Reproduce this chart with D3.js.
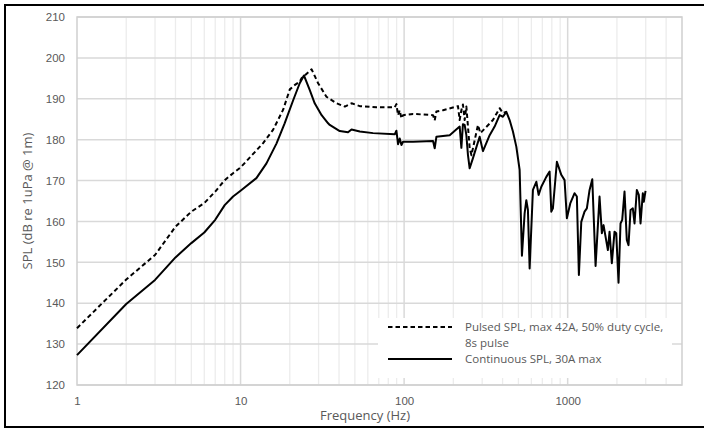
<!DOCTYPE html>
<html>
<head>
<meta charset="utf-8">
<script src="https://cdn.jsdelivr.net/npm/d3@7"></script>
<style>
  body { margin: 0; background: #fff; }
  svg { display: block; font-family: "Open Sans", "Liberation Sans", sans-serif; }
</style>
</head>
<body>
<svg id="chart" width="704" height="428"></svg>
<script>
// data
const contFreq = [1, 2, 3, 4, 5, 6, 7, 8, 9, 10, 12.5, 14.4, 16.6, 18.6, 21, 23, 24.4, 26.5, 28.4, 31.3, 34.3, 35.1,
  40.4, 45.4, 47.7, 53.6, 64.6, 87.6, 89.7, 91.8, 94, 96.3, 98.5, 113.4, 150.2, 153.8, 157.5, 189.9, 218.6, 223.9,
  228.9, 234.5, 240.2, 245.6, 251.6, 263.6, 289.6, 303.4, 333.4, 357.6, 383.7, 401.9, 421.6, 441.6, 462.7, 485.3,
  508.5, 525.2, 545.5, 558.7, 571.4, 585.3, 613.1, 643.2, 664.3, 690, 740.2, 775.3, 794.1, 812.2, 859.1, 913.9,
  957.2, 988.8, 1037, 1102, 1138, 1171, 1211, 1268, 1310, 1361, 1414, 1481, 1566, 1618, 1657, 1697, 1761, 1803,
  1862, 1934, 1981, 2046, 2104, 2155, 2226, 2299, 2355, 2423, 2502, 2563, 2647, 2723, 2789, 2880, 2921, 2992];
const contSpl = [127.3, 139.8, 145.7, 151.2, 154.7, 157.3, 160.4, 164.0, 166.1, 167.5, 170.6, 174.2, 179.1, 184.0,
  189.7, 193.8, 195.7, 192.1, 188.9, 186.0, 184.0, 183.6, 182.1, 181.8, 182.5, 182.0, 181.6, 181.3, 182.2, 178.9,
  180.3, 178.7, 179.5, 179.5, 179.7, 177.9, 180.7, 181.1, 183.2, 178.0, 183.8, 183.6, 181.1, 176.3, 173.0, 175.5,
  180.7, 177.2, 181.1, 183.2, 186.0, 185.6, 186.8, 184.8, 182.0, 178.3, 172.6, 151.6, 162.0, 165.2, 162.8, 148.5,
  167.7, 169.7, 166.5, 168.5, 170.9, 172.2, 162.4, 163.2, 174.6, 171.4, 170.1, 160.8, 164.4, 166.9, 166.1, 146.9,
  159.9, 162.4, 163.2, 167.7, 170.3, 149.1, 166.1, 157.1, 159.1, 156.7, 153.0, 157.5, 149.8, 157.5, 157.1, 145.0,
  159.5, 160.4, 167.3, 155.5, 154.2, 162.8, 163.2, 159.5, 167.7, 166.5, 159.5, 166.9, 164.8, 167.5];

const pulsedFreq = [1, 2, 3, 4, 5, 6, 7, 8, 9, 10, 13.7, 15.8, 18.2, 20, 21.5, 23, 23.6, 27.2, 29.8, 33.5, 38.6,
  43.4, 47.7, 53.6, 67.7, 87.6, 89.7, 91.8, 94, 96.3, 98.5, 113.4, 150.2, 153.8, 157.5, 172.8, 213.5, 218.6, 223.9,
  228.9, 234.5, 240.2, 251.6, 258, 282.8, 292.5, 349.2, 383.7, 401.9, 421.6];
const pulsedSpl = [133.9, 145.8, 151.8, 158.7, 162.4, 164.5, 167.3, 170.1, 171.8, 173.2, 179.1, 182.4, 187.3, 192.3,
  193.4, 194.2, 195.0, 197.2, 193.8, 190.5, 188.9, 188.1, 188.9, 188.2, 187.9, 187.9, 188.7, 186.0, 187.2, 185.2,
  186.0, 186.3, 186.0, 184.7, 186.9, 187.2, 188.2, 184.8, 187.2, 188.6, 184.8, 188.1, 178.0, 176.2, 183.6, 181.6,
  184.8, 187.7, 186.5, 186.8];

const xTicks = [1, 10, 100, 1000];
const yTicks = [120, 130, 140, 150, 160, 170, 180, 190, 200, 210];
const legendLabels = [["Pulsed SPL, max 42A, 50% duty cycle,", "8s pulse"], ["Continuous SPL, 30A max"]];

const svg = d3.select("#chart");
const pLeft = 77, pRight = 682, pTop = 17, pBottom = 385;

const x = d3.scaleLog().domain([1, 5000]).range([pLeft, pRight]);
const y = d3.scaleLinear().domain([120, 210]).range([pBottom, pTop]);

// outer frame
svg.append("rect")
  .attr("x", 5).attr("y", 5).attr("width", 702).attr("height", 422)
  .attr("fill", "none").attr("stroke", "#000").attr("stroke-width", 2);

// minor vertical grid
let minor = [];
for (let d = 1; d < 5000; d *= 10) {
  for (let k = 2; k <= 9; k++) if (d * k < 5000) minor.push(d * k);
}
svg.append("g").selectAll("line").data(minor).join("line")
  .attr("x1", d => x(d)).attr("x2", d => x(d))
  .attr("y1", pTop).attr("y2", pBottom)
  .attr("stroke", "#ececec").attr("stroke-width", 1.3);

// major grid
svg.append("g").selectAll("line").data(xTicks.slice(1)).join("line")
  .attr("x1", d => x(d)).attr("x2", d => x(d))
  .attr("y1", pTop).attr("y2", pBottom)
  .attr("stroke", "#d9d9d9").attr("stroke-width", 1.5);

svg.append("g").selectAll("line").data(yTicks).join("line")
  .attr("x1", pLeft).attr("x2", pRight)
  .attr("y1", d => y(d)).attr("y2", d => y(d))
  .attr("stroke", "#d9d9d9").attr("stroke-width", 1.5);

// plot border
svg.append("rect")
  .attr("x", pLeft).attr("y", pTop).attr("width", pRight - pLeft).attr("height", pBottom - pTop)
  .attr("fill", "none").attr("stroke", "#cfcfcf").attr("stroke-width", 1.5);

// axes
const xAxis = svg.append("g")
  .attr("transform", `translate(0,${pBottom})`)
  .call(d3.axisBottom(x).tickValues(xTicks).tickSize(0).tickPadding(12).tickFormat(d3.format("d")));
xAxis.select(".domain").remove();
xAxis.selectAll("text").attr("fill", "#595959").attr("font-size", 11.5);

const yAxis = svg.append("g")
  .attr("transform", `translate(${pLeft},0)`)
  .call(d3.axisLeft(y).tickValues(yTicks).tickSize(0).tickPadding(12));
yAxis.select(".domain").remove();
yAxis.selectAll("text").attr("fill", "#595959").attr("font-size", 11.5);

svg.append("text")
  .attr("x", 365).attr("y", 420)
  .attr("text-anchor", "middle").attr("fill", "#595959").attr("font-size", 13)
  .text("Frequency (Hz)");

svg.append("text")
  .attr("transform", "translate(32,201) rotate(-90)")
  .attr("text-anchor", "middle").attr("fill", "#595959").attr("font-size", 13)
  .text("SPL (dB re 1uPa @ 1m)");

// series
const line = d3.line().x(d => x(d[0])).y(d => y(d[1]));

svg.append("path")
  .datum(d3.zip(pulsedFreq, pulsedSpl))
  .attr("d", line)
  .attr("fill", "none").attr("stroke", "#000").attr("stroke-width", 2)
  .attr("stroke-dasharray", "4.5,3").attr("stroke-linejoin", "round");

svg.append("path")
  .datum(d3.zip(contFreq, contSpl))
  .attr("d", line)
  .attr("fill", "none").attr("stroke", "#000").attr("stroke-width", 2)
  .attr("stroke-linejoin", "round");

// legend
const lg = svg.append("g");
lg.append("rect")
  .attr("x", 378).attr("y", 318).attr("width", 294).attr("height", 60)
  .attr("fill", "#fff");

const rows = [
  { y: 327, dash: "4.5,3", lines: legendLabels[0] },
  { y: 359, dash: null, lines: legendLabels[1] }
];
rows.forEach(r => {
  lg.append("line")
    .attr("x1", 388).attr("x2", 452).attr("y1", r.y).attr("y2", r.y)
    .attr("stroke", "#000").attr("stroke-width", 2)
    .attr("stroke-dasharray", r.dash);
  r.lines.forEach((t, i) => {
    lg.append("text")
      .attr("x", 465).attr("y", r.y + i * 16)
      .attr("dy", "0.35em").attr("fill", "#595959").attr("font-size", 11.5)
      .text(t);
  });
});
</script>
</body>
</html>
